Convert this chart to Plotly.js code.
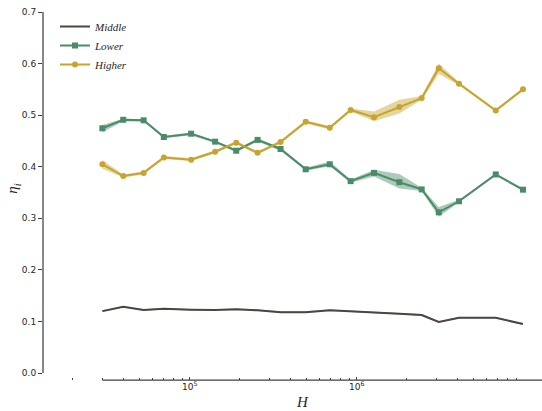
<!DOCTYPE html>
<html><head><meta charset="utf-8">
<script src="https://cdn.plot.ly/plotly-3.0.1.min.js"></script>
<style>html,body{margin:0;padding:0;background:#fff}#chart{width:542px;height:411px}</style>
</head><body><div id="chart"></div>
<script>
const H = [3.0e4, 4.0e4, 5.3e4, 7.0e4, 1.02e5, 1.42e5, 1.9e5, 2.55e5, 3.5e5, 4.95e5, 6.9e5, 9.2e5, 1.27e6, 1.8e6, 2.45e6, 3.1e6, 4.1e6, 6.8e6, 9.9e6];
const middle = [0.120, 0.1286, 0.122, 0.1247, 0.1228, 0.122, 0.1235, 0.1216, 0.118, 0.118, 0.1216, 0.120, 0.1177, 0.115, 0.1125, 0.099, 0.107, 0.107, 0.095];
const middleLo = [0.1185, 0.1271, 0.1205, 0.1232, 0.1213, 0.1205, 0.122, 0.1201, 0.1165, 0.1165, 0.1201, 0.1185, 0.1162, 0.1135, 0.1105, 0.0975, 0.1055, 0.1055, 0.0935];
const middleHi = [0.1215, 0.1301, 0.1235, 0.1262, 0.1243, 0.1235, 0.125, 0.1231, 0.1195, 0.1195, 0.1231, 0.1215, 0.1192, 0.1165, 0.1145, 0.1005, 0.1085, 0.1085, 0.0965];
const lower = [0.4745, 0.491, 0.490, 0.4576, 0.464, 0.4486, 0.431, 0.452, 0.4344, 0.395, 0.4047, 0.372, 0.388, 0.370, 0.356, 0.3116, 0.333, 0.385, 0.3555];
const lowerLo = [0.467, 0.488, 0.487, 0.455, 0.461, 0.446, 0.428, 0.449, 0.431, 0.392, 0.401, 0.369, 0.381, 0.358, 0.353, 0.303, 0.331, 0.383, 0.353];
const lowerHi = [0.481, 0.493, 0.492, 0.460, 0.466, 0.451, 0.434, 0.455, 0.437, 0.398, 0.410, 0.375, 0.394, 0.386, 0.359, 0.322, 0.336, 0.387, 0.358];
const higher = [0.4047, 0.382, 0.388, 0.418, 0.4136, 0.429, 0.4466, 0.427, 0.448, 0.487, 0.4757, 0.510, 0.496, 0.516, 0.533, 0.591, 0.561, 0.509, 0.550];
const higherLo = [0.396, 0.379, 0.385, 0.415, 0.411, 0.426, 0.444, 0.424, 0.445, 0.484, 0.472, 0.507, 0.488, 0.503, 0.530, 0.580, 0.558, 0.507, 0.548];
const higherHi = [0.413, 0.385, 0.391, 0.421, 0.417, 0.432, 0.450, 0.430, 0.451, 0.490, 0.479, 0.513, 0.507, 0.530, 0.537, 0.600, 0.564, 0.512, 0.553];
const names = ['Middle', 'Lower', 'Higher'];
const yTicks = [0.0, 0.1, 0.2, 0.3, 0.4, 0.5, 0.6, 0.7];
const xMajor = [1e5, 1e6];
const xMajorText = ['10<sup>5</sup>', '10<sup>6</sup>'];
const xMinor = [2e4,3e4,4e4,5e4,6e4,7e4,8e4,9e4,2e5,3e5,4e5,5e5,6e5,7e5,8e5,9e5,2e6,3e6,4e6,5e6,6e6,7e6,8e6,9e6];

const colM = '#4b4740', colL = '#4a8b68', colH = '#c6a42e';
function band(lo, hi, fill) {
  return [
    {x: H, y: hi, mode: 'lines', line: {width: 0}, showlegend: false, hoverinfo: 'skip'},
    {x: H, y: lo, mode: 'lines', line: {width: 0}, fill: 'tonexty', fillcolor: fill, showlegend: false, hoverinfo: 'skip'}
  ];
}
const traces = [].concat(
  band(middleLo, middleHi, 'rgba(75,71,64,0.4)'),
  band(lowerLo, lowerHi, 'rgba(74,139,104,0.45)'),
  band(higherLo, higherHi, 'rgba(198,164,46,0.45)'),
  [
    {x: H, y: middle, name: names[0], mode: 'lines', line: {color: colM, width: 2}},
    {x: H, y: lower, name: names[1], mode: 'lines+markers', line: {color: colL, width: 2}, marker: {symbol: 'square', size: 6, color: colL}},
    {x: H, y: higher, name: names[2], mode: 'lines+markers', line: {color: colH, width: 2}, marker: {symbol: 'circle', size: 6, color: colH}}
  ]
);
const xr = [4.1216, 7.1096];
const layout = {
  width: 542, height: 411,
  margin: {l: 43, r: 0, t: 12, b: 31},
  paper_bgcolor: '#fff', plot_bgcolor: '#fff',
  showlegend: true,
  legend: {x: 0.024, y: 1.0, xanchor: 'left', yanchor: 'top', bgcolor: 'rgba(0,0,0,0)', traceorder: 'normal',
           font: {family: 'Liberation Serif', size: 11, color: '#262626', style: 'italic'}, tracegroupgap: 0},
  xaxis: {type: 'log', range: xr, showgrid: false, zeroline: false, showline: false,
          tickmode: 'array', tickvals: xMajor, ticktext: xMajorText, ticks: 'inside', ticklen: 3, tickwidth: 1, tickcolor: '#404040',
          tickfont: {family: 'DejaVu Sans', size: 9, color: '#262626'},
          minor: {tickmode: 'array', tickvals: xMinor, ticks: 'inside', ticklen: 2, tickwidth: 1, tickcolor: '#404040', showgrid: false}},
  yaxis: {range: [-0.01357, 0.7], showgrid: false, zeroline: false, showline: false,
          tickmode: 'array', tickvals: yTicks, ticktext: yTicks.map(v => v.toFixed(1)),
          ticks: 'outside', ticklen: 4, tickwidth: 1, tickcolor: '#404040',
          tickfont: {family: 'DejaVu Sans', size: 9, color: '#262626'}},
  shapes: [
    {type: 'line', xref: 'paper', yref: 'y', x0: 0, x1: 0, y0: 0, y1: 0.7, line: {color: '#404040', width: 1.25}},
    {type: 'line', xref: 'paper', yref: 'paper', x0: (Math.log10(3e4) - xr[0]) / (xr[1] - xr[0]), x1: 1, y0: 0, y1: 0, line: {color: '#404040', width: 1.25}}
  ],
  annotations: [
    {text: 'H', xref: 'paper', yref: 'paper', x: 0.521, y: -0.06, yanchor: 'middle', xanchor: 'center', showarrow: false,
     font: {family: 'Liberation Serif', size: 15, color: '#262626', style: 'italic'}},
    {text: 'η<sub>i</sub>', xref: 'paper', yref: 'paper', x: -0.06, y: 0.52, xanchor: 'center', yanchor: 'middle', textangle: -90, showarrow: false,
     font: {family: 'Liberation Serif', size: 15, color: '#262626', style: 'italic'}}
  ]
};
Plotly.newPlot('chart', traces, layout, {displayModeBar: false});
</script></body></html>
